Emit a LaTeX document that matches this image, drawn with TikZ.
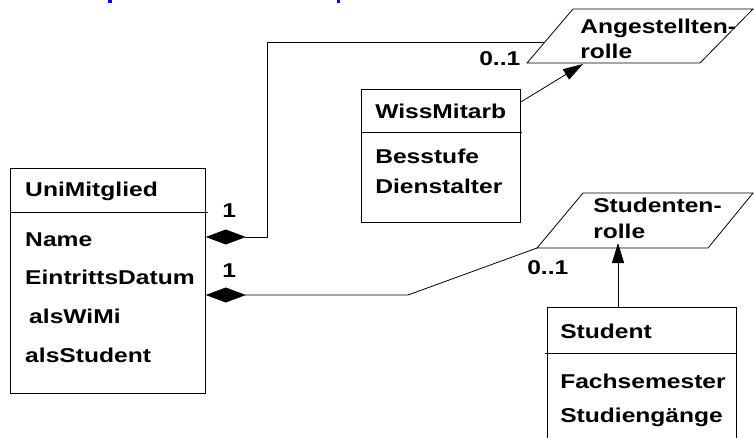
\documentclass[tikz,border=0pt]{standalone}
\usepackage{fontspec}
\setmainfont{Liberation Sans}
\usetikzlibrary{arrows.meta,calc}
\tikzset{
  box/.style={draw, line width=0.8pt, inner sep=0pt, anchor=north west},
  lbl/.style={anchor=base west, inner sep=0pt, xscale=1.23, font=\bfseries\fontsize{20}{24}\selectfont},
  conn/.style={line width=0.8pt},
  role/.style={draw, line width=0.8pt},
  comp/.style={conn, {Diamond[length=40pt,width=15pt]}-},
  gen/.style={conn, -{Triangle[length=20pt,width=12pt]}}
}
\begin{document}
\begin{tikzpicture}[x=1pt,y=-1pt]
\clip (0,0) rectangle (754,437);
\fill[white] (0,0) rectangle (754,437);
% cut-off blue heading fragments
\fill[blue] (108,0) rectangle (112,2.5);
\fill[blue] (337,0) rectangle (340,3);

% UniMitglied
\node[box, minimum width=195pt, minimum height=225pt] (uni) at (10,168) {};
\draw[conn] (uni.west |- 0,212) -- (208,212);
\node[lbl] (uniT) at (25,196) {UniMitglied};
\node[lbl] (uniA1) at (25,246) {Name};
\node[lbl] (uniA2) at (25,284) {EintrittsDatum};
\node[lbl] (uniA3) at (29,323) {alsWiMi};
\node[lbl] (uniA4) at (25,362) {alsStudent};

% WissMitarb
\node[box, minimum width=159pt, minimum height=133pt] (wiss) at (361,89) {};
\draw[conn] (wiss.west |- 0,132) -- (522,132);
\node[lbl] (wissT) at (375,118) {WissMitarb};
\node[lbl] (wissA1) at (375,163) {Besstufe};
\node[lbl] (wissA2) at (375,193) {Dienstalter};

% Student
\node[box, minimum width=189pt, minimum height=150pt] (stud) at (547,307) {};
\draw[conn] (545,353) -- (stud.east |- 0,353);
\node[lbl] (studT) at (560,338) {Student};
\node[lbl] (studA1) at (560,388) {Fachsemester};
\node[lbl] (studA2) at (560,422) {Studiengänge};

% Angestelltenrolle
\draw[role] (573,9) -- (753,9) -- (700,63) -- (527,63) -- cycle;
\coordinate (angL) at (545,42);
\coordinate (angB) at (583,64);
\node[lbl] (angT1) at (580,33) {Angestellten-};
\node[lbl] (angT2) at (580,58) {rolle};

% Studentenrolle
\draw[role] (583,193) -- (753,193) -- (708,248) -- (537,248) -- cycle;
\coordinate (stuL) at (537,248);
\coordinate (stuB) at (618,243);
\node[lbl] (stuT1) at (593,212) {Studenten-};
\node[lbl] (stuT2) at (593,238) {rolle};

% connectors
\coordinate (b1) at (267,237);
\coordinate (b2) at (267,42);
\draw[comp] ($(uni.north east)+(0,69)$) -- (b1) -- (b2) -- (angL);
\coordinate (b3) at (408,295);
\draw[comp] ($(uni.north east)+(0,127)$) -- (b3) -- (stuL);
\draw[gen] ($(wiss.north east)+(0,13)$) -- (angB);
\draw[gen] (stuB |- stud.north) -- (stuB);

% multiplicities
\node[lbl] (m1) at (222,217) {1};
\node[lbl] (m2) at (222,277) {1};
\node[lbl] (m3) at (479,65) {0..1};
\node[lbl] (m4) at (527,274) {0..1};
\end{tikzpicture}
\end{document}
